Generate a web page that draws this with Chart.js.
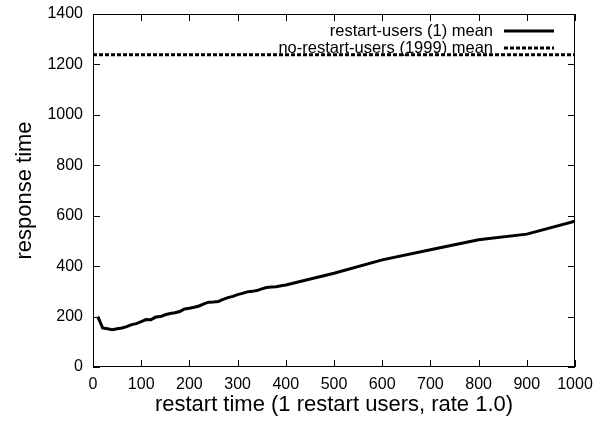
<!DOCTYPE html>
<html>
<head>
<meta charset="utf-8">
<script src="https://cdn.jsdelivr.net/npm/chart.js@4"></script>
<style>
  html, body { margin: 0; padding: 0; background: #fff; }
  #wrap { width: 596px; height: 425px; }
</style>
</head>
<body>
<div id="wrap"><canvas id="c" width="596" height="425"></canvas></div>
<script>
// restart time (x) and mean response time for the restart users
const restartTimes = [10, 20, 30, 40, 50, 60, 70, 80, 90, 100, 110, 120, 130, 140, 150, 160, 170, 180, 190, 200,
  210, 220, 230, 240, 250, 260, 270, 280, 290, 300, 310, 320, 330, 340, 350, 360, 370, 380, 390, 400,
  500, 600, 700, 800, 900, 1000];
const restartMean = [200, 155, 152, 148, 152, 155, 160, 168, 172, 180, 188, 187, 198, 200, 207, 212, 215, 220, 230, 233,
  237, 242, 250, 257, 258, 260, 268, 275, 280, 287, 292, 298, 300, 303, 310, 315, 317, 318, 322, 325,
  372, 425, 465, 505, 527, 578];
// no-restart users mean is flat
const noRestartX = [0, 1000];
const noRestartMean = [1238, 1238];

const legendLabels = ['restart-users (1) mean', 'no-restart-users (1999) mean'];

const FONT = 'Liberation Sans, Arial, Helvetica, sans-serif';

// gnuplot style frame: border + inward ticks on all four sides, legend top right
const framePlugin = {
  id: 'frame',
  afterDraw(chart) {
    const ctx = chart.ctx;
    const a = chart.chartArea;
    const xs = chart.scales.x, ys = chart.scales.y;
    ctx.save();
    ctx.strokeStyle = '#000';
    ctx.lineWidth = 1;
    ctx.strokeRect(a.left + 0.5, a.top + 0.5, a.right - a.left - 1, a.bottom - a.top - 1);
    ctx.beginPath();
    xs.ticks.forEach(t => {
      const px = Math.round(xs.getPixelForValue(t.value)) + 0.5;
      ctx.moveTo(px, a.bottom); ctx.lineTo(px, a.bottom - 7);
      ctx.moveTo(px, a.top); ctx.lineTo(px, a.top + 7);
    });
    ys.ticks.forEach(t => {
      const py = Math.round(ys.getPixelForValue(t.value)) + 0.5;
      ctx.moveTo(a.left, py); ctx.lineTo(a.left + 7, py);
      ctx.moveTo(a.right, py); ctx.lineTo(a.right - 7, py);
    });
    ctx.stroke();

    // legend
    ctx.font = '16.5px ' + FONT;
    ctx.fillStyle = '#000';
    ctx.textAlign = 'right';
    ctx.textBaseline = 'middle';
    const textRight = a.right - 82;
    const lx0 = a.right - 71, lx1 = a.right - 21;
    chart.data.datasets.forEach((ds, i) => {
      const y = a.top + 17 + i * 17;
      ctx.fillText(legendLabels[i], textRight, y);
      ctx.beginPath();
      ctx.lineWidth = 3;
      ctx.setLineDash(ds.borderDash || []);
      ctx.moveTo(lx0, y); ctx.lineTo(lx1, y);
      ctx.stroke();
      ctx.setLineDash([]);
    });
    ctx.restore();
  }
};

new Chart(document.getElementById('c'), {
  type: 'line',
  data: {
    datasets: [
      {
        label: legendLabels[0],
        data: restartTimes.map((x, i) => ({ x: x, y: restartMean[i] })),
        borderColor: '#000',
        borderWidth: 3,
        pointRadius: 0,
        tension: 0,
        fill: false
      },
      {
        label: legendLabels[1],
        data: noRestartX.map((x, i) => ({ x: x, y: noRestartMean[i] })),
        borderColor: '#000',
        borderWidth: 3,
        borderDash: [4, 2],
        pointRadius: 0,
        tension: 0,
        fill: false
      }
    ]
  },
  options: {
    responsive: false,
    animation: false,
    layout: { padding: { top: 14, right: 21, left: 0, bottom: 0 } },
    plugins: { legend: { display: false }, tooltip: { enabled: false } },
    scales: {
      x: {
        type: 'linear',
        min: 0, max: 1000,
        grid: { display: false, drawTicks: false },
        border: { display: false },
        ticks: { stepSize: 100, color: '#000', font: { family: FONT, size: 16 }, padding: 8, maxRotation: 0,
          callback: v => String(v) },
        title: { display: true, text: 'restart time (1 restart users, rate 1.0)', color: '#000',
          font: { family: FONT, size: 22 }, padding: { top: 0, bottom: 7 } },
        afterFit(s) { s.height = 58; s.paddingLeft = 0; s.paddingRight = 0; }
      },
      y: {
        min: 0, max: 1400,
        grid: { display: false, drawTicks: false },
        border: { display: false },
        ticks: { stepSize: 200, color: '#000', font: { family: FONT, size: 16 }, padding: 10,
          callback: v => String(v) },
        title: { display: true, text: 'response time', color: '#000',
          font: { family: FONT, size: 22 }, padding: { top: 12, bottom: 0 } },
        afterFit(s) { s.width = 93; s.paddingTop = 0; s.paddingBottom = 0; }
      }
    }
  },
  plugins: [framePlugin]
});
</script>
</body>
</html>
